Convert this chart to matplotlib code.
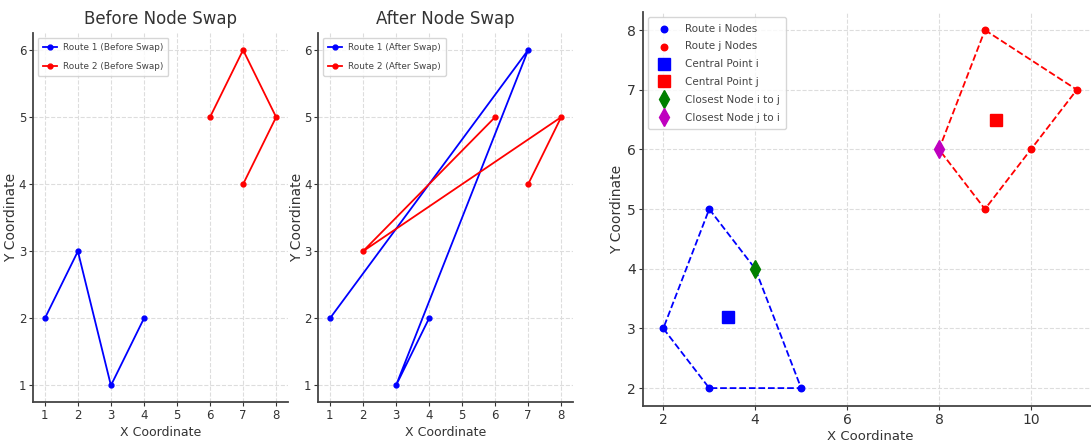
import numpy as np
import matplotlib.pyplot as plt

# before / after node swap routes
route1_before_x = [1, 2, 3, 4]
route1_before_y = [2, 3, 1, 2]
route2_before_x = [6, 7, 8, 7]
route2_before_y = [5, 6, 5, 4]

route1_after_x = [1, 7, 3, 4]
route1_after_y = [2, 6, 1, 2]
route2_after_x = [6, 2, 8, 7]
route2_after_y = [5, 3, 5, 4]

# route i / route j nodes
route_i_x = [3, 4, 5, 3, 2]
route_i_y = [5, 4, 2, 2, 3]
route_j_x = [9, 11, 10, 9, 8]
route_j_y = [8, 7, 6, 5, 6]
central_i = (3.4, 3.2)
central_j = (9.25, 6.5)
closest_i = (4, 4)
closest_j = (8, 6)

TXT = '#333333'
plt.rcParams['font.family'] = ['DejaVu Sans']
plt.rcParams['text.color'] = TXT
plt.rcParams['axes.labelcolor'] = TXT
plt.rcParams['xtick.color'] = TXT
plt.rcParams['ytick.color'] = TXT


def style_axes(ax, tick_size):
    for side in ['top', 'right']:
        ax.spines[side].set_visible(False)
    for side in ['left', 'bottom']:
        ax.spines[side].set_color('#444444')
        ax.spines[side].set_linewidth(1.3)
    ax.grid(True, linestyle='--', color='#dddddd', linewidth=0.8)
    ax.set_axisbelow(True)
    ax.tick_params(labelsize=tick_size, length=3, width=0.8, pad=2)


def swap_panel(ax, r1x, r1y, r2x, r2y, title, tag, ylab_x):
    ax.plot(r1x, r1y, '-o', color='blue', lw=1.3, ms=3.5, label='Route 1 ({})'.format(tag))
    ax.plot(r2x, r2y, '-o', color='red', lw=1.3, ms=3.5, label='Route 2 ({})'.format(tag))
    ax.set_title(title, fontsize=12, pad=7)
    ax.set_xlabel('X Coordinate', fontsize=9, labelpad=3)
    ax.set_ylabel('Y Coordinate', fontsize=10)
    ax.yaxis.set_label_coords(ylab_x, 0.5)
    ax.set_xticks(range(1, 9))
    ax.set_yticks(range(1, 7))
    style_axes(ax, 8.5)
    leg = ax.legend(loc='upper left', prop={'size': 6.4},
                    handlelength=1.6, handletextpad=0.6, borderpad=0.6, labelspacing=1.1)
    for t in leg.get_texts():
        t.set_color('#444444')


fig = plt.figure(figsize=(10.91, 4.43), dpi=100)
ax1 = fig.add_axes([0.0305, 0.092, 0.2332, 0.833])
ax2 = fig.add_axes([0.2918, 0.092, 0.2332, 0.833])
ax3 = fig.add_axes([0.589, 0.0835, 0.417, 0.889])

swap_panel(ax1, route1_before_x, route1_before_y, route2_before_x, route2_before_y,
           'Before Node Swap', 'Before Swap', -0.058)
swap_panel(ax2, route1_after_x, route1_after_y, route2_after_x, route2_after_y,
           'After Node Swap', 'After Swap', -0.058)

# right panel
ax3.plot(route_i_x + route_i_x[:1], route_i_y + route_i_y[:1], '--', color='blue', lw=1.3)
ax3.plot(route_j_x + route_j_x[:1], route_j_y + route_j_y[:1], '--', color='red', lw=1.3)
ax3.scatter(route_i_x, route_i_y, color='blue', s=22, label='Route i Nodes', zorder=3)
ax3.scatter(route_j_x, route_j_y, color='red', s=22, label='Route j Nodes', zorder=3)
ax3.plot(*central_i, 's', color='blue', ms=8, label='Central Point i', zorder=4)
ax3.plot(*central_j, 's', color='red', ms=8, label='Central Point j', zorder=4)
ax3.plot(*closest_i, 'd', color='green', ms=9, label='Closest Node i to j', zorder=4)
ax3.plot(*closest_j, 'd', color='m', ms=9, label='Closest Node j to i', zorder=4)
ax3.set_xlabel('X Coordinate', fontsize=9.5, labelpad=2)
ax3.set_ylabel('Y Coordinate', fontsize=10)
ax3.yaxis.set_label_coords(-0.04, 0.5)
style_axes(ax3, 10)
leg = ax3.legend(loc='upper left', prop={'size': 7.5},
                 borderpad=0.6, labelspacing=0.75, handletextpad=1.0)
for t in leg.get_texts():
    t.set_color('#444444')

fig.savefig('out.png', dpi=100)
